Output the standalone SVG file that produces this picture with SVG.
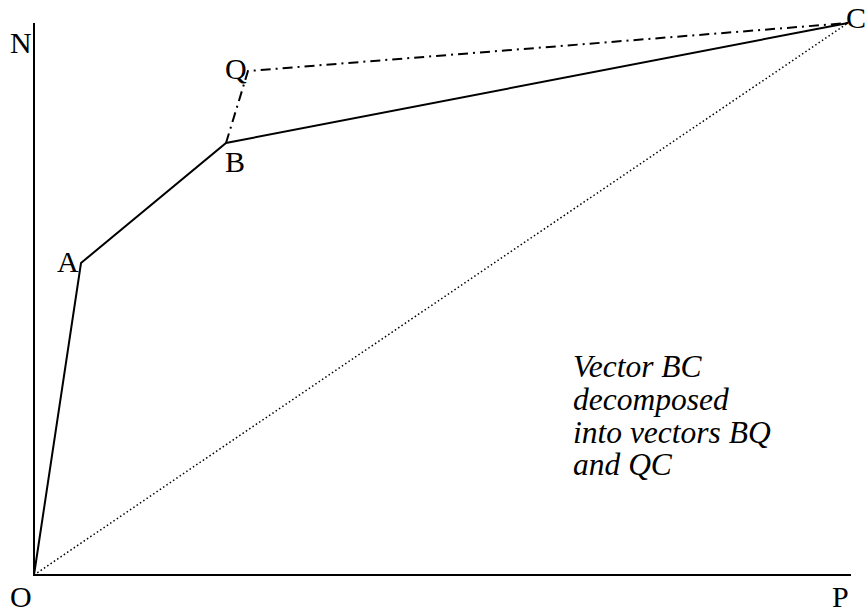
<svg xmlns="http://www.w3.org/2000/svg" width="865" height="614" viewBox="0 0 865 614">
<style>
.lbl{font-family:'Liberation Serif','Times New Roman','DejaVu Serif',serif;font-size:30px;fill:#000}
.note{font-family:'Liberation Serif','Times New Roman','DejaVu Serif',serif;font-size:31.5px;font-style:italic;fill:#000}
.solid{stroke:#000;stroke-width:2;fill:none}
.dashdot{stroke:#000;stroke-width:2;fill:none;stroke-dasharray:10,5,2,5}
.dot{stroke:#000;stroke-width:1.5;fill:none;stroke-dasharray:1.5,2.5}
</style>
<rect width="865" height="614" fill="#fff"/>
<g id="axes">
<line class="solid" x1="34" y1="23" x2="34" y2="576"/>
<line class="solid" x1="33" y1="575" x2="851" y2="575"/>
</g>
<g id="connectors">
<polyline class="solid" points="34,575 81,263 226,143 848,23"/>
<polyline class="dashdot" points="226,143 248,71 848,23"/>
<line class="dot" x1="34" y1="575" x2="848" y2="23"/>
</g>
<g id="node-N"><text class="lbl" x="10" y="53">N</text></g>
<g id="node-O"><text class="lbl" x="10" y="607">O</text></g>
<g id="node-P"><text class="lbl" x="832" y="607">P</text></g>
<g id="node-A"><text class="lbl" x="57" y="272">A</text></g>
<g id="node-B"><text class="lbl" x="225" y="172">B</text></g>
<g id="node-Q"><text class="lbl" x="225" y="79">Q</text></g>
<g id="node-C"><text class="lbl" x="846" y="28">C</text></g>
<g id="note">
<text class="note" x="573" y="377">Vector BC</text>
<text class="note" x="573" y="410">decomposed</text>
<text class="note" x="573" y="443">into vectors BQ</text>
<text class="note" x="573" y="475">and QC</text>
</g>
</svg>
